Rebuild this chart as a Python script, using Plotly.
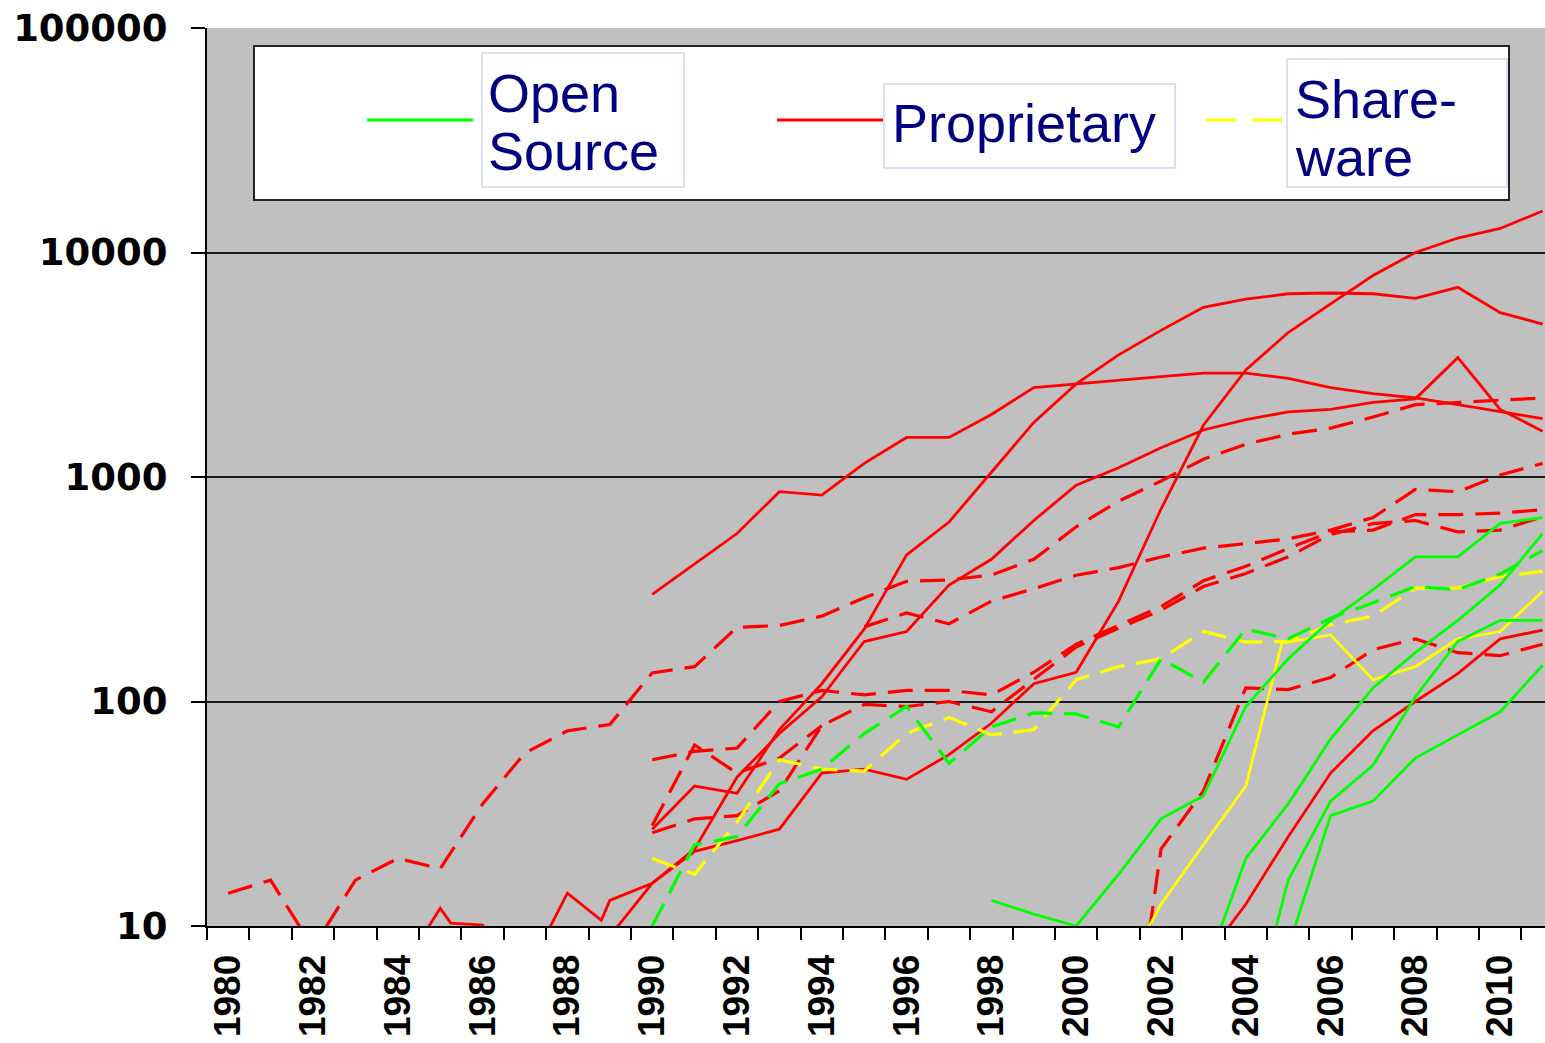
import plotly.graph_objects as go

# ---- data (x = year, y = count, log scale) ----
YEARS = list(range(1980, 2012))
LABEL_YEARS = list(range(1980, 2011, 2))

# Proprietary - solid (red)
prop_a_x = list(range(1990, 2012))
prop_a_y = [300, 410, 560, 860, 830, 1150, 1500, 1500, 1900, 2500, 2600, 2700,
            2800, 2900, 2900, 2750, 2500, 2350, 2250, 2100, 1950, 1820]
prop_b_x = list(range(1990, 2012))
prop_b_y = [27, 42, 39, 75, 120, 210, 450, 630, 1050, 1750, 2600, 3500,
            4500, 5700, 6200, 6550, 6600, 6550, 6250, 7000, 5400, 4800]
prop_c_x = [1987, 1988, 1988.8] + list(range(1989, 2012))
prop_c_y = [6, 14, 10.6, 13, 15.5, 21.5, 24, 27, 48, 50, 45, 58, 80, 120, 135,
            280, 720, 1700, 3000, 4400, 5900, 7900, 10000, 11600, 12800, 15300]
prop_d_x = list(range(1989, 2012))
prop_d_y = [9, 15.5, 22, 46, 72, 105, 185, 205, 330, 430, 640, 920, 1100, 1350,
            1620, 1800, 1950, 2000, 2150, 2230, 3400, 2000, 1600]
prop_e_x = list(range(2003, 2012))
prop_e_y = [7, 12.5, 25, 48, 74, 100, 133, 190, 208]
prop_f_x = [1984, 1985, 1985.25, 1986, 1987]
prop_f_y = [6, 12, 10.3, 10.1, 5]

# Proprietary - dashed (red)
propd_a_x = YEARS
propd_a_y = [14, 16, 8, 16, 20, 18, 35, 59, 74, 79, 134, 143, 214, 218, 240, 290,
             343, 348, 366, 430, 600, 780, 960, 1200, 1400, 1550, 1650, 1850,
             2100, 2150, 2200, 2250]
propd_b_x = list(range(1995, 2012))
propd_b_y = [215, 248, 222, 280, 318, 365, 395, 440, 482, 505, 530, 580, 660,
             880, 860, 1020, 1150]
propd_c_x = list(range(1990, 2012))
propd_c_y = [55, 60, 62, 100, 112, 107, 112, 112, 107, 135, 180, 218, 265, 345,
             400, 480, 570, 580, 680, 680, 690, 715]
propd_d_x = list(range(1990, 2012))
propd_d_y = [26, 30, 31, 40, 78, 97, 95, 100, 90, 125, 175, 212, 255, 325, 372,
             441, 555, 620, 640, 570, 580, 665]
propd_e_x = list(range(2001, 2012))
propd_e_y = [1, 22, 40, 115, 113, 128, 170, 190, 165, 160, 180]
propd_f_x = list(range(1990, 1995))
propd_f_y = [28, 64, 48, 56, 78]

# Shareware (yellow)
share_solid_x = [2001, 2002, 2003, 2004, 2004.85, 2006, 2007, 2008, 2009, 2010, 2011]
share_solid_y = [5.5, 12.5, 23, 42, 182, 198, 125, 143, 190, 205, 310]
share_dash_x = list(range(1990, 2012))
share_dash_y = [20, 17, 29, 55, 50, 49, 72, 85, 71, 75, 125, 143, 155, 205, 184,
                185, 220, 240, 320, 320, 360, 380]

# Open source (green)
os_a_x = list(range(1998, 2012))
os_a_y = [13, 11.3, 10, 17, 30, 38, 95, 155, 230, 315, 441, 441, 621, 660]
os_b_x = list(range(2003, 2012))
os_b_y = [6, 20, 35, 68, 115, 165, 230, 330, 560]
os_c_x = list(range(2004, 2012))
os_c_y = [3, 16, 36, 52, 105, 185, 230, 230]
os_d_x = list(range(2005, 2012))
os_d_y = [8, 31, 36, 56, 71, 90, 145]
os_dash_x = list(range(1990, 2012))
os_dash_y = [10, 23, 25, 43, 50, 72, 95, 53, 77, 89, 88, 77, 155, 122, 210, 190,
             235, 275, 325, 315, 370, 470]

RED, GREEN, YELLOW = "#ff0000", "#00ff00", "#ffff00"
DASH = "25px,12px"

series = [
    (propd_a_x, propd_a_y, RED, DASH),
    (propd_b_x, propd_b_y, RED, DASH),
    (propd_c_x, propd_c_y, RED, DASH),
    (propd_d_x, propd_d_y, RED, DASH),
    (propd_e_x, propd_e_y, RED, DASH),
    (propd_f_x, propd_f_y, RED, DASH),
    (prop_a_x, prop_a_y, RED, "solid"),
    (prop_b_x, prop_b_y, RED, "solid"),
    (prop_c_x, prop_c_y, RED, "solid"),
    (prop_d_x, prop_d_y, RED, "solid"),
    (prop_e_x, prop_e_y, RED, "solid"),
    (prop_f_x, prop_f_y, RED, "solid"),
    (share_dash_x, share_dash_y, YELLOW, DASH),
    (share_solid_x, share_solid_y, YELLOW, "solid"),
    (os_dash_x, os_dash_y, GREEN, DASH),
    (os_a_x, os_a_y, GREEN, "solid"),
    (os_b_x, os_b_y, GREEN, "solid"),
    (os_c_x, os_c_y, GREEN, "solid"),
    (os_d_x, os_d_y, GREEN, "solid"),
]

fig = go.Figure()
for xs, ys, color, dash in series:
    fig.add_trace(go.Scatter(
        x=xs, y=ys, mode="lines", showlegend=False, hoverinfo="skip",
        line=dict(color=color, width=3.2 if dash != "solid" else 2.8, dash=dash),
    ))

# page / plot-area geometry in pixels
W, H = 1545, 1043
PL, PR, PT, PB = 207, 1545, 28, 926


def px(x):
    return (x - PL) / (PR - PL)


def py(y):
    return (PB - y) / (PB - PT)


shapes = [
    # legend frame
    dict(type="rect", xref="paper", yref="paper", x0=px(254), x1=px(1509),
         y0=py(200), y1=py(46), fillcolor="white", line=dict(color="#222", width=2),
         layer="above"),
    # text boxes inside legend
    dict(type="rect", xref="paper", yref="paper", x0=px(482), x1=px(684),
         y0=py(187), y1=py(53), line=dict(color="#d4d4ee", width=1.5), layer="above"),
    dict(type="rect", xref="paper", yref="paper", x0=px(884), x1=px(1175),
         y0=py(168), y1=py(84), line=dict(color="#d4d4ee", width=1.5), layer="above"),
    dict(type="rect", xref="paper", yref="paper", x0=px(1287), x1=px(1507),
         y0=py(187), y1=py(59), line=dict(color="#d4d4ee", width=1.5), layer="above"),
    # legend samples
    dict(type="line", xref="paper", yref="paper", x0=px(367), x1=px(473),
         y0=py(120), y1=py(120), line=dict(color=GREEN, width=3), layer="above"),
    dict(type="line", xref="paper", yref="paper", x0=px(777), x1=px(883),
         y0=py(120), y1=py(120), line=dict(color=RED, width=3), layer="above"),
    dict(type="line", xref="paper", yref="paper", x0=px(1206), x1=px(1282),
         y0=py(120), y1=py(120), line=dict(color=YELLOW, width=3, dash="30px,16px"),
         layer="above"),
]

legend_font = dict(family="Liberation Sans, Arial, sans-serif", size=54, color="#000080")
annotations = []
for text, x, y in [("Open", 486, 93), ("Source", 486, 151), ("Proprietary", 890, 123),
                   ("Share-", 1293, 99), ("ware", 1293, 157)]:
    annotations.append(dict(text=text, xref="paper", yref="paper", x=px(x), y=py(y),
                            xanchor="left", yanchor="middle", showarrow=False,
                            font=legend_font))

fig.update_layout(
    width=W, height=H,
    margin=dict(l=PL, r=W - PR, t=PT, b=H - PB, autoexpand=False),
    paper_bgcolor="white",
    plot_bgcolor="#c0c0c0",
    shapes=shapes,
    annotations=annotations,
    xaxis=dict(
        range=[1979.5, 1979.5 + (PR - PL) / 42.4],
        automargin=False,
        tickmode="array", tickvals=LABEL_YEARS, ticktext=[str(y) for y in LABEL_YEARS],
        tickangle=-90, ticks="", ticklabelstandoff=12,
        tickfont=dict(family="Liberation Sans, Arial, sans-serif", size=37,
                      color="black", weight="bold"),
        minor=dict(tickmode="array", tickvals=[y - 0.5 for y in YEARS],
                   ticks="outside", ticklen=12, tickwidth=2, tickcolor="black",
                   showgrid=False),
        showgrid=False, zeroline=False,
        showline=True, linecolor="black", linewidth=2,
    ),
    yaxis=dict(
        type="log", range=[1, 5],
        automargin=False,
        tickmode="array", tickvals=[10, 100, 1000, 10000, 100000],
        ticktext=["10", "100", "1000", "10000", "100000"],
        ticks="outside", ticklen=14, tickwidth=2, tickcolor="black",
        ticklabelstandoff=16,
        tickfont=dict(family="DejaVu Sans, sans-serif", size=37, color="black",
                      weight="bold"),
        showgrid=True, gridcolor="#1a1a1a", gridwidth=1.5,
        zeroline=False, showline=True, linecolor="black", linewidth=2,
    ),
)

# drop the browser's default body margin so the figure sits at the page corner
fig.write_html("out.html",
               config={"displayModeBar": False},
               post_script="document.body.style.margin='0';"
                           "document.body.style.overflow='hidden';")
